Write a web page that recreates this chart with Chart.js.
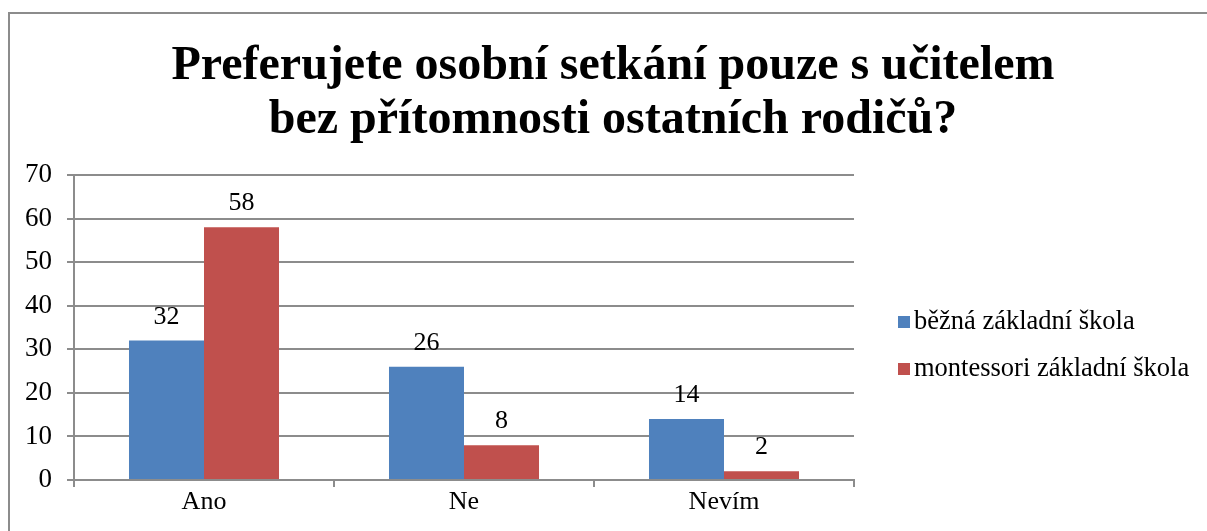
<html>
<head>
<meta charset="utf-8">
<script src="https://cdn.jsdelivr.net/npm/chart.js@4.4.1/dist/chart.umd.min.js"></script>
<style>
 body { margin: 0; background: #fff; }
 #wrap { width: 1207px; height: 531px; }
</style>
</head>
<body>
<div id="wrap"><canvas id="myChart"></canvas></div>
<script>
 // data
 var titleLines = ["Preferujete osobní setkání pouze s učitelem", "bez přítomnosti ostatních rodičů?"];
 var categories = ["Ano", "Ne", "Nevím"];
 var seriesNames = ["běžná základní škola", "montessori základní škola"];
 var bezna = [32, 26, 14];
 var montessori = [58, 8, 2];
 var colors = ["#4F81BD", "#C0504D"];

 var serif = "'Liberation Serif', 'Times New Roman', serif";
 var gridGray = "#8c8c8c";

 // frame, title, value labels and legend
 var extras = {
 id: "extras",
 beforeDraw: function(chart) {
 var ctx = chart.ctx;
 ctx.save();
 ctx.strokeStyle = gridGray;
 ctx.lineWidth = 2;
 ctx.strokeRect(9, 13, 1230, 560);
 ctx.restore();
 },
 afterDatasetsDraw: function(chart) {
 var ctx = chart.ctx;
 ctx.save();
 ctx.fillStyle = "#000";
 ctx.font = "26px " + serif;
 ctx.textAlign = "center";
 ctx.textBaseline = "alphabetic";
 chart.data.datasets.forEach(function(ds, d) {
 var meta = chart.getDatasetMeta(d);
 meta.data.forEach(function(bar, i) {
 ctx.fillText(ds.data[i], bar.x, bar.y - 17);
 });
 });
 ctx.restore();
 },
 afterDraw: function(chart) {
 var ctx = chart.ctx;
 ctx.save();
 ctx.fillStyle = "#000";
 ctx.textAlign = "center";
 ctx.textBaseline = "alphabetic";
 ctx.font = "bold 48px " + serif;
 ctx.fillText(titleLines[0], 613, 79);
 ctx.fillText(titleLines[1], 613, 133);
 // legend
 ctx.textAlign = "left";
 ctx.font = "26.5px " + serif;
 var baselines = [329, 376];
 chart.data.datasets.forEach(function(ds, d) {
 ctx.fillStyle = ds.backgroundColor;
 ctx.fillRect(898, baselines[d] - 13, 12, 12);
 ctx.fillStyle = "#000";
 ctx.fillText(ds.label, 914, baselines[d]);
 });
 ctx.restore();
 }
 };

 new Chart("myChart", {
 type: "bar",
 data: {
 labels: categories,
 datasets: [
 { label: seriesNames[0], data: bezna, backgroundColor: colors[0] },
 { label: seriesNames[1], data: montessori, backgroundColor: colors[1] }
 ]
 },
 options: {
 responsive: true,
 maintainAspectRatio: false,
 animation: false,
 datasets: { bar: { categoryPercentage: 0.577, barPercentage: 1 } },
 layout: { padding: { top: 175, left: 0, right: 353, bottom: 0 } },
 plugins: {
 legend: { display: false },
 title: { display: false },
 tooltip: { enabled: false }
 },
 scales: {
 x: {
 afterFit: function(s) { s.height = 51; },
 grid: { drawOnChartArea: false, offset: true, tickLength: 7, color: gridGray, lineWidth: 2 },
 border: { color: gridGray, width: 2 },
 ticks: { color: "#000", padding: 0, font: { family: serif, size: 26 } }
 },
 y: {
 min: 0,
 max: 70,
 afterFit: function(s) { s.width = 74; },
 grid: { tickLength: 7, color: gridGray, lineWidth: 2 },
 border: { color: gridGray, width: 2 },
 ticks: { stepSize: 10, color: "#000", padding: 15, font: { family: serif, size: 27 } }
 }
 }
 },
 plugins: [extras]
 });
</script>
</body>
</html>
